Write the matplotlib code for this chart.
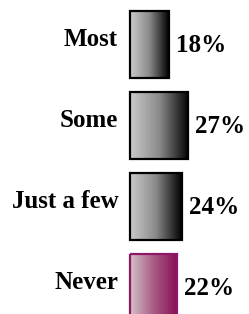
import numpy as np
import matplotlib.pyplot as plt
from matplotlib.colors import LinearSegmentedColormap

categories = ['Most', 'Some', 'Just a few', 'Never']
values = [18, 27, 24, 22]
labels = ['18%', '27%', '24%', '22%']
highlight = ['Never']

W, H = 249, 314
PX_PER_PCT = 2.15
X0 = 130          # pixel where bars start
Y_FIRST = 44.5    # pixel centre of the first bar
Y_STEP = 81.0     # pixel spacing between bars
BAR_H = 0.815

gray = LinearSegmentedColormap.from_list('gray', ['#cbcbcb', '#8a8a8a', '#000000'])
pink = LinearSegmentedColormap.from_list('pink', ['#d2c2c8', '#a85a84', '#860e55'])

fig = plt.figure(figsize=(W / 100, H / 100), dpi=100)
ax = fig.add_axes([0, 0, 1, 1])
ax.set_xlim(-X0 / PX_PER_PCT, (W - X0) / PX_PER_PCT)
ax.set_ylim((H - Y_FIRST) / Y_STEP, -Y_FIRST / Y_STEP)
ax.axis('off')

grad = np.linspace(0, 1, 256).reshape(1, -1)
font = dict(family=['Liberation Serif', 'DejaVu Serif'], fontweight='bold', fontsize=18)

for i, (cat, val, lab) in enumerate(zip(categories, values, labels)):
    is_hl = cat in highlight
    cmap = pink if is_hl else gray
    edge = '#8e1766' if is_hl else '#000000'
    top, bottom = i - BAR_H / 2, i + BAR_H / 2
    ax.imshow(grad, cmap=cmap, aspect='auto', extent=(0, val, bottom, top),
              interpolation='bilinear', zorder=1)
    ax.add_patch(plt.Rectangle((0, top), val, BAR_H, fill=False, edgecolor=edge,
                               linewidth=1.6, zorder=2))
    ax.text(-5.5, i - 0.06, cat, ha='right', va='center', **font)
    ax.text(val + 3.3, i + 0.01, lab, ha='left', va='center', **font)

fig.savefig('out.png', dpi=100)
